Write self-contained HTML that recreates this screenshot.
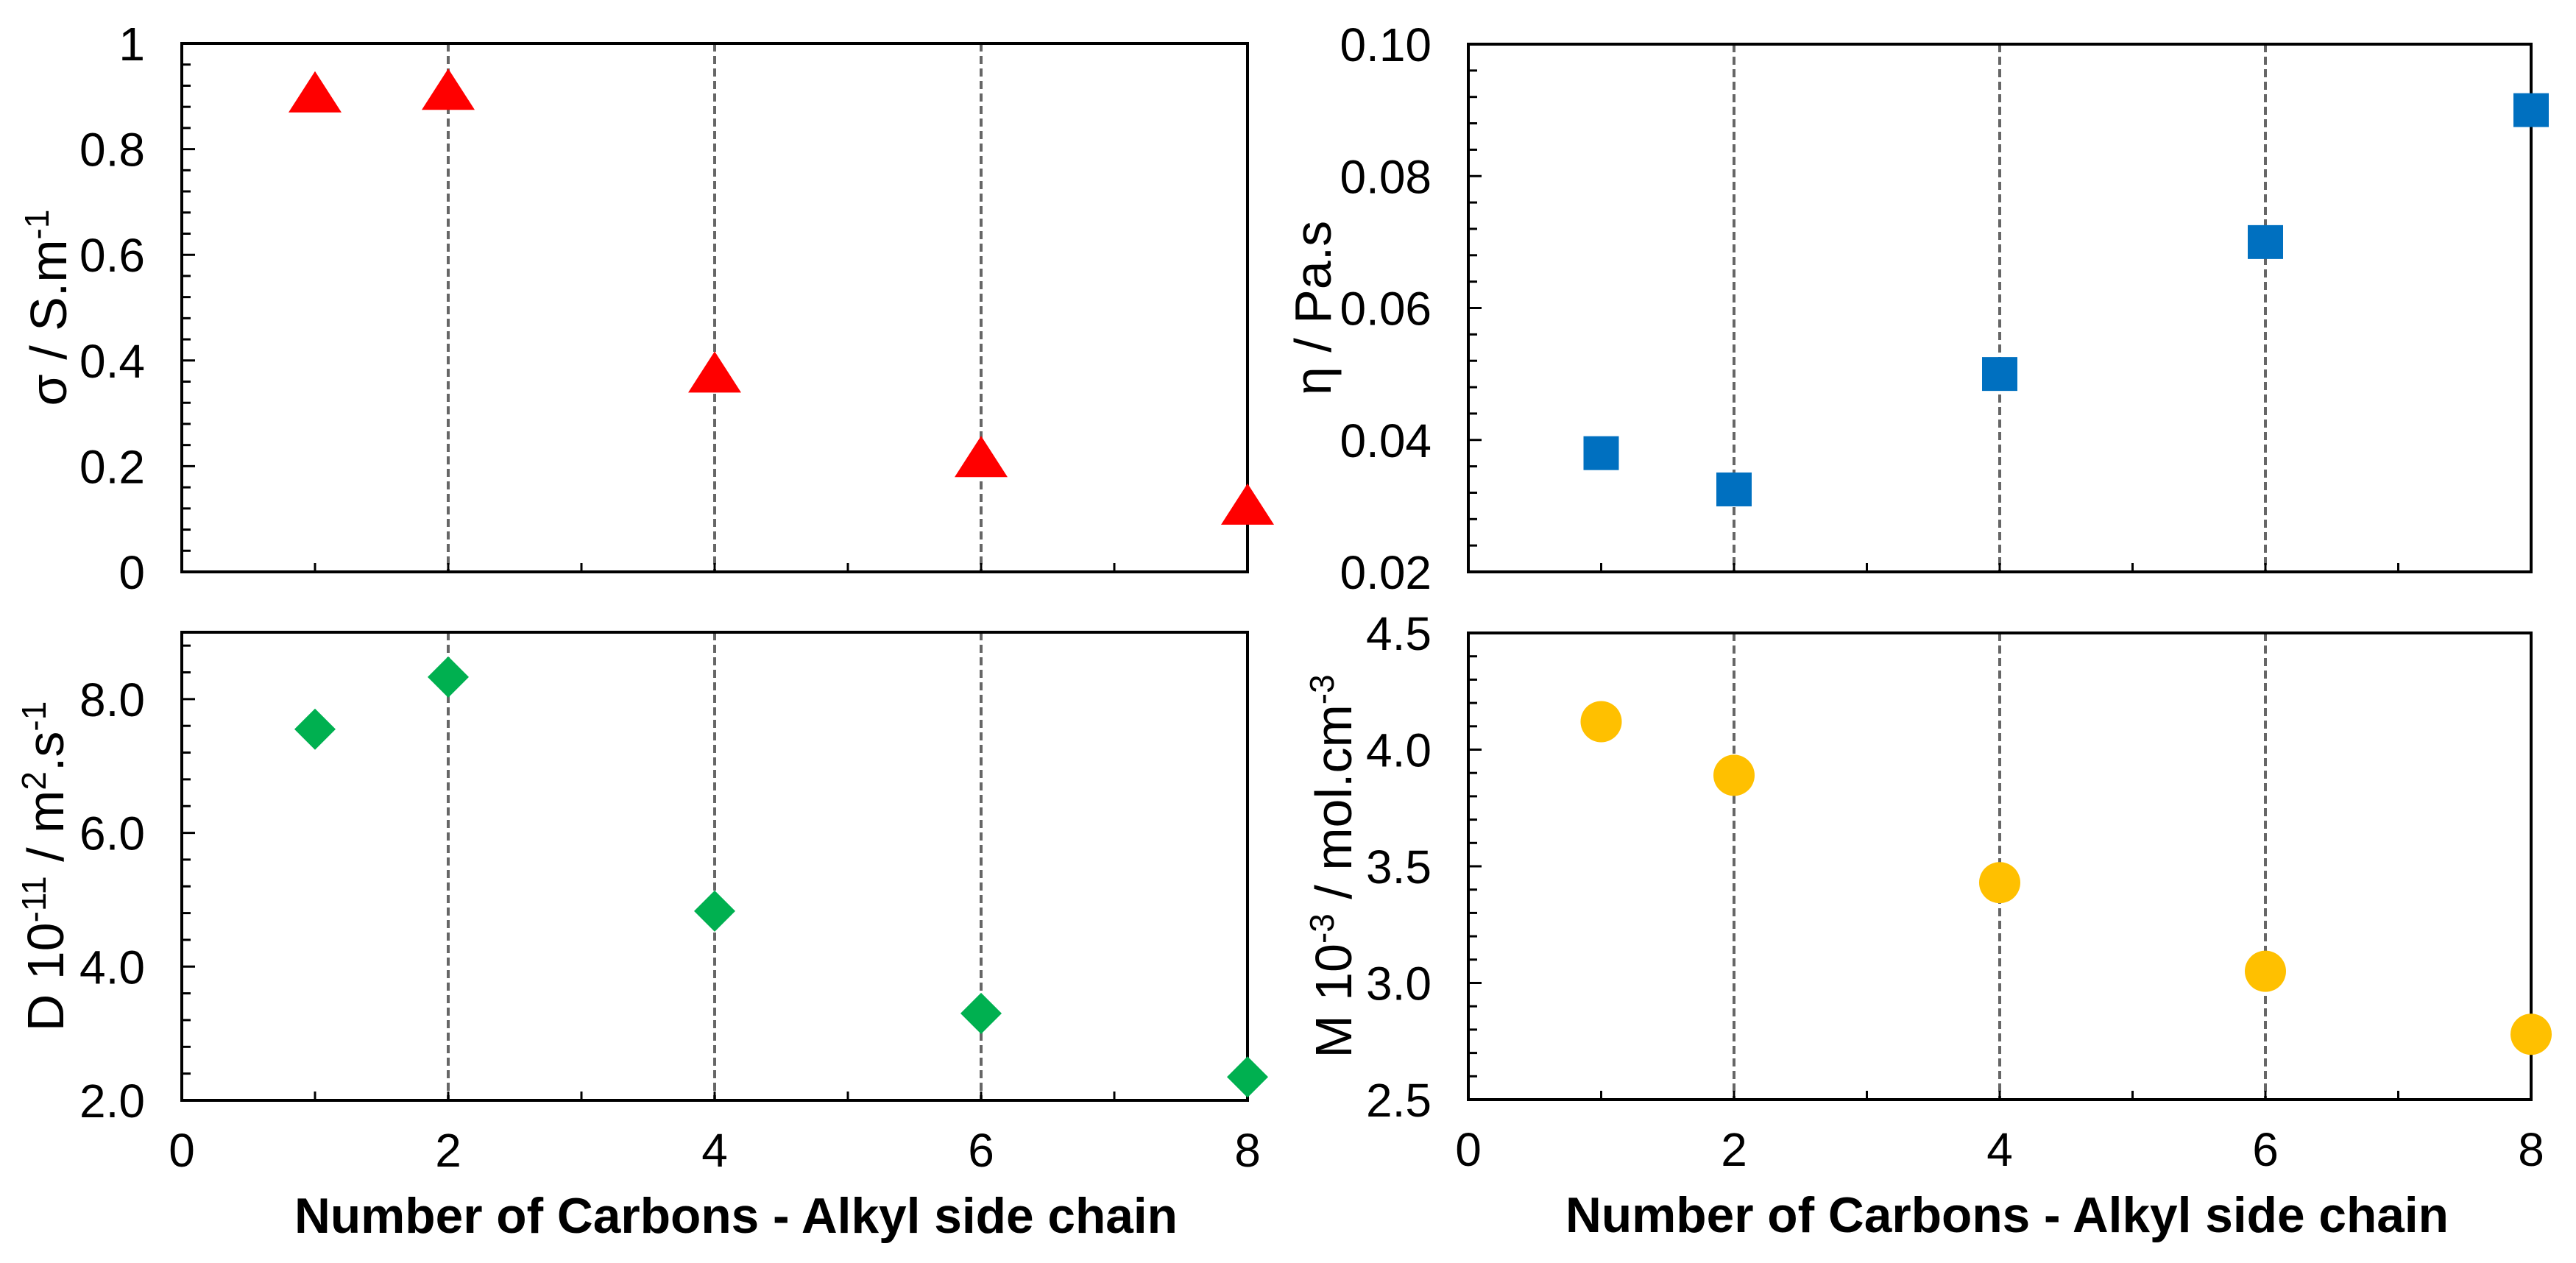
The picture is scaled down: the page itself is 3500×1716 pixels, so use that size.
<!DOCTYPE html>
<html><head><meta charset="utf-8"><style>
html,body{margin:0;padding:0;background:#fff;}
svg{display:block;font-family:"Liberation Sans",Arial,sans-serif;}
</style></head><body>
<svg id="fig" width="3500" height="1716" viewBox="0 0 3500 1716" xmlns="http://www.w3.org/2000/svg"></svg>
<script>
const carbons = [1, 2, 4, 6, 8];
const sigmaValues = [0.90, 0.905, 0.37, 0.21, 0.12];
const etaValues = [0.038, 0.0325, 0.050, 0.070, 0.090];
const diffValues = [7.55, 8.33, 4.83, 3.30, 2.35];
const molValues = [4.12, 3.89, 3.43, 3.05, 2.78];
const xTicks = [0, 2, 4, 6, 8];
const sigmaTicks = ["0", "0.2", "0.4", "0.6", "0.8", "1"];
const etaTicks = ["0.02", "0.04", "0.06", "0.08", "0.10"];
const diffTicks = ["2.0", "4.0", "6.0", "8.0"];
const molTicks = ["2.5", "3.0", "3.5", "4.0", "4.5"];
const dashedX = [2, 4, 6];

const NS = "http://www.w3.org/2000/svg";
const svg = document.getElementById('fig');
function el(tag, attrs, parent) {
  const e = document.createElementNS(NS, tag);
  for (const k in attrs) e.setAttribute(k, attrs[k]);
  (parent || svg).appendChild(e);
  return e;
}

function panel(cfg) {
  const g = el('g', {});
  
  
  const {L, R, T, B, ymin, ymax, minor, major} = cfg;
  const sx = v => L + (v - 0) / 8 * (R - L);
  const sy = v => B - (v - ymin) / (ymax - ymin) * (B - T);
  dashedX.forEach(v => {
    const d = el('line', {x1: sx(v), x2: sx(v), y1: T, y2: B, stroke: '#666', 'stroke-width': 4, 'stroke-dasharray': '11,6'}, g);
    
    
  });
  const n = Math.round((ymax - ymin) / minor);
  for (let i = 1; i < n; i++) {
    const v = ymin + i * minor;
    const isMajor = Math.abs((v - ymin) / major - Math.round((v - ymin) / major)) < 1e-6;
    el('line', {x1: L, x2: L + (isMajor ? 18 : 12), y1: sy(v), y2: sy(v), stroke: '#000', 'stroke-width': 3}, g);
  }
  for (let v = 1; v < 8; v++) el('line', {x1: sx(v), x2: sx(v), y1: B, y2: B - 12, stroke: '#000', 'stroke-width': 3}, g);
  const fr = el('rect', {x: L, y: T, width: R - L, height: B - T, fill: 'none', stroke: '#000', 'stroke-width': 4}, g);
  
  
  cfg.ticks.forEach(t => {
    const v = parseFloat(t);
    const tx = el('text', {x: L - 50, y: sy(v) + 23, 'text-anchor': 'end', 'font-size': 64, fill: '#000'}, g);
    tx.textContent = t;
    
    
  });
  if (cfg.xlabels) {
    xTicks.forEach(v => {
      const tx = el('text', {x: sx(v), y: B + 90, 'text-anchor': 'middle', 'font-size': 64, fill: '#000'}, g);
      tx.textContent = v;
      
      
    });
    const xt = el('text', {x: cfg.xTitleX, y: B + 180, 'text-anchor': 'middle', 'font-size': 68, 'font-weight': 'bold', fill: '#000', textLength: 1200, lengthAdjust: 'spacingAndGlyphs'}, g);
    xt.textContent = 'Number of Carbons - Alkyl side chain';
    
    
  }
  const yt = el('text', {x: 0, y: 0, 'text-anchor': 'middle', 'font-size': 70, fill: '#000', transform: `translate(${cfg.titleX},${(T + B) / 2}) rotate(-90)`}, g);
  yt.innerHTML = cfg.title;
  
  
  cfg.values.forEach((v, i) => {
    const cx = sx(carbons[i]), cy = sy(v);
    let m;
    if (cfg.marker === 'tri') m = el('polygon', {points: `${cx - 36},${cy + 22} ${cx + 36},${cy + 22} ${cx},${cy - 34}`, fill: '#ff0000'}, g);
    else if (cfg.marker === 'sq') m = el('rect', {x: cx - 24, y: cy - 23, width: 48, height: 46, fill: '#0070c0'}, g);
    else if (cfg.marker === 'dia') m = el('polygon', {points: `${cx},${cy - 28} ${cx + 28},${cy} ${cx},${cy + 28} ${cx - 28},${cy}`, fill: '#00b050'}, g);
    else m = el('circle', {cx: cx, cy: cy, r: 28, fill: '#ffc000'}, g);
    
    
  });
}

panel({name: 'conductivity-panel', L: 247, R: 1695, T: 59, B: 777, ymin: 0, ymax: 1, minor: 0.04, major: 0.2, ticks: sigmaTicks, values: sigmaValues, marker: 'tri', markName: 'sigma', titleX: 90, title: 'σ / S.m<tspan dy="-24" font-size="46">-1</tspan>'});
panel({name: 'viscosity-panel', L: 1995, R: 3439, T: 60, B: 777, ymin: 0.02, ymax: 0.10, minor: 0.004, major: 0.02, ticks: etaTicks, values: etaValues, marker: 'sq', markName: 'eta', titleX: 1808, title: 'η / Pa.s'});
panel({name: 'diffusion-panel', L: 247, R: 1695, T: 859, B: 1495, ymin: 2, ymax: 9, minor: 0.4, major: 2, ticks: diffTicks, values: diffValues, marker: 'dia', markName: 'diffusion', titleX: 86, xlabels: true, xTitleX: 1000, title: 'D 10<tspan dy="-24" font-size="46">-11</tspan><tspan dy="24"> / m</tspan><tspan dy="-24" font-size="46">2</tspan><tspan dy="24">.s</tspan><tspan dy="-24" font-size="46">-1</tspan>'});
panel({name: 'molarity-panel', L: 1995, R: 3439, T: 860, B: 1494, ymin: 2.5, ymax: 4.5, minor: 0.1, major: 0.5, ticks: molTicks, values: molValues, marker: 'circ', markName: 'molarity', titleX: 1836, xlabels: true, xTitleX: 2727, title: 'M 10<tspan dy="-24" font-size="46">-3</tspan><tspan dy="24"> / mol.cm</tspan><tspan dy="-24" font-size="46">-3</tspan>'});
</script>
</body></html>
